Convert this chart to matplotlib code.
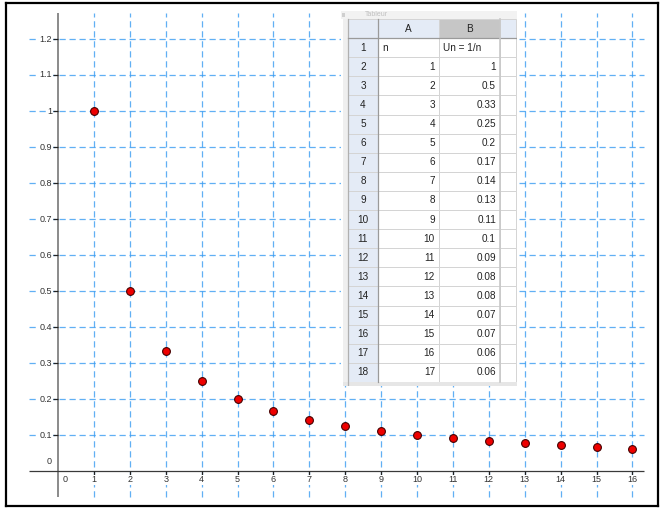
import matplotlib
matplotlib.use("Agg")
import matplotlib.pyplot as plt
from matplotlib.patches import Rectangle

plt.rcParams["font.family"] = ["Liberation Sans", "DejaVu Sans"]

# ── Data ──────────────────────────────────────────────────────────────────────
n_points = [1, 2, 3, 4, 5, 6, 7, 8, 9, 10, 11, 12, 13, 14, 15, 16]
u_points = [1.0, 0.5, 0.333, 0.25, 0.2, 0.167, 0.143, 0.125, 0.111, 0.1,
            0.091, 0.083, 0.077, 0.071, 0.067, 0.0625]

x_ticks = list(range(0, 17))
y_ticks = [0.1, 0.2, 0.3, 0.4, 0.5, 0.6, 0.7, 0.8, 0.9, 1.0, 1.1, 1.2]
y_tick_labels = ["0.1", "0.2", "0.3", "0.4", "0.5", "0.6", "0.7", "0.8",
                 "0.9", "1", "1.1", "1.2"]

table_rows = list(range(1, 19))
table_header = ["A", "B"]
table_titles = ["n", "Un = 1/n"]
table_n = ["1", "2", "3", "4", "5", "6", "7", "8", "9", "10", "11", "12",
           "13", "14", "15", "16", "17"]
table_u = ["1", "0.5", "0.33", "0.25", "0.2", "0.17", "0.14", "0.13", "0.11",
           "0.1", "0.09", "0.08", "0.08", "0.07", "0.07", "0.06", "0.06"]

# ── Layout (pixels) ───────────────────────────────────────────────────────────
W, H = 661, 508
X0_PX, X_UNIT = 58.0, 35.9      # pixel of x=0, pixels per unit
Y0_PX, Y_UNIT = 471.0, 360.0    # pixel of y=0 (from top), pixels per unit

GRID_C = "#3a9cf2"
dash = (0, (5, 3))

fig = plt.figure(figsize=(W / 100, H / 100), dpi=100)
ax = fig.add_axes([0, 0, 1, 1])
ax.set_xlim(-X0_PX / X_UNIT, (W - X0_PX) / X_UNIT)
ax.set_ylim(-(H - Y0_PX) / Y_UNIT, Y0_PX / Y_UNIT)
ax.axis("off")

gx_min, gx_max = (29 - X0_PX) / X_UNIT, (644 - X0_PX) / X_UNIT
gy_min, gy_max = (Y0_PX - 497) / Y_UNIT, (Y0_PX - 13) / Y_UNIT

# grid
ax.hlines(y_ticks, gx_min, gx_max, colors=GRID_C, lw=0.9, linestyles=dash, alpha=0.8, zorder=1)
ax.vlines(x_ticks[1:], gy_min, gy_max, colors=GRID_C, lw=0.9, linestyles=dash, alpha=0.8, zorder=1)

# axes
ax.plot([0, 0], [gy_min, gy_max], color="#8a8a8a", lw=1.4, zorder=2, solid_capstyle="butt")
ax.plot([gx_min, gx_max], [0, 0], color="#3a3a3a", lw=0.9, zorder=2, solid_capstyle="butt")

# tick marks
tk = 5 / X_UNIT
ax.hlines(y_ticks, -tk, 0, colors="#222222", lw=0.9, zorder=2)
tky = 5 / Y_UNIT
ax.vlines(x_ticks[1:], -tky, 0, colors="#222222", lw=0.9, zorder=2)

lbl = dict(fontsize=6.5, color="#333333", zorder=3,
           bbox=dict(facecolor="white", edgecolor="none", pad=0.6))
for v, t in zip(y_ticks, y_tick_labels):
    ax.text(-6 / X_UNIT, v, t, ha="right", va="center", **lbl)
ax.text(-6 / X_UNIT, 5 / Y_UNIT, "0", ha="right", va="bottom", **lbl)
for v in x_ticks:
    xx = v + (7 / X_UNIT if v == 0 else 0)
    ax.text(xx, -9 / Y_UNIT, str(v), ha="center", va="center", **lbl)

# points
ax.plot(n_points, u_points, "o", color="#ee0000", mec="#440000", mew=0.8,
        ms=5.6, ls="none", zorder=4)

# outer frame
for seg in ([(5.5, 3), (5.5, 506)], [(5.5, 3), (658, 3)], [(5.5, 506), (658, 506)],
            [(658, 3), (658, 506)]):
    (a, b), (c, d) = seg
    fig.add_artist(plt.Line2D([a / W, c / W], [1 - b / H, 1 - d / H],
                              color="black", lw=1.6, transform=fig.transFigure))

# ── Spreadsheet overlay ───────────────────────────────────────────────────────
TX0, TX1, TY0, TY1 = 341, 517, 11, 386
tax = fig.add_axes([TX0 / W, 1 - TY1 / H, (TX1 - TX0) / W, (TY1 - TY0) / H])
tax.set_xlim(TX0, TX1)
tax.set_ylim(TY1, TY0)
tax.axis("off")

HEAD_BLUE = "#e4ebf6"
LINE_C = "#d4d4d4"
col_x = [348, 378, 439, 500, 516]
head_top, row_h = 19.0, 19.1
cell_font = dict(fontsize=7.2, color="#222222")

tax.add_patch(Rectangle((TX0, TY0), TX1 - TX0, TY1 - TY0, facecolor="white", edgecolor="none"))
tax.add_patch(Rectangle((TX0, TY0), TX1 - TX0, head_top - TY0, facecolor="#f2f2f2", edgecolor="none"))
tax.text(365, 14.5, "Tableur", fontsize=5, color="#c0c0c0", va="center")
tax.add_patch(Rectangle((TX0 + 1, 13), 3, 4, facecolor="#cfcfcf", edgecolor="none"))
tax.add_patch(Rectangle((343, head_top), 5, TY1 - head_top, facecolor="#efefef", edgecolor="none"))

# header row
heads = [HEAD_BLUE, HEAD_BLUE, "#c6c6c6", HEAD_BLUE]
for i, fc in enumerate(heads):
    tax.add_patch(Rectangle((col_x[i], head_top), col_x[i + 1] - col_x[i], row_h,
                            facecolor=fc, edgecolor=LINE_C, lw=0.7))
for i, h in enumerate(table_header):
    tax.text((col_x[i + 1] + col_x[i + 2]) / 2, head_top + row_h / 2, h,
             ha="center", va="center", **cell_font)

# body rows
for r in table_rows:
    y = head_top + r * row_h
    tax.add_patch(Rectangle((col_x[0], y), col_x[1] - col_x[0], row_h,
                            facecolor=HEAD_BLUE, edgecolor=LINE_C, lw=0.7))
    for i in range(1, 4):
        tax.add_patch(Rectangle((col_x[i], y), col_x[i + 1] - col_x[i], row_h,
                                facecolor="white", edgecolor=LINE_C, lw=0.7))
    tax.text((col_x[0] + col_x[1]) / 2, y + row_h / 2, str(r), ha="center", va="center", **cell_font)
    if r == 1:
        tax.text(col_x[1] + 4, y + row_h / 2, table_titles[0], ha="left", va="center", **cell_font)
        tax.text(col_x[2] + 4, y + row_h / 2, table_titles[1], ha="left", va="center", **cell_font)
    else:
        tax.text(col_x[2] - 4, y + row_h / 2, table_n[r - 2], ha="right", va="center", **cell_font)
        tax.text(col_x[3] - 4, y + row_h / 2, table_u[r - 2], ha="right", va="center", **cell_font)

body_bot = head_top + 19 * row_h
tax.add_patch(Rectangle((343, body_bot), TX1 - 343, TY1 - body_bot, facecolor="#e6e6e6", edgecolor="none"))
tax.plot([col_x[1], col_x[1]], [head_top, body_bot], color="#9a9a9a", lw=0.9)
tax.plot([col_x[0], col_x[0]], [head_top, TY1], color="#b0b0b0", lw=0.9)
tax.plot([col_x[0], col_x[4]], [head_top + row_h, head_top + row_h], color="#9a9a9a", lw=0.9)
tax.plot([col_x[3], col_x[3]], [head_top, body_bot], color="#c8c8c8", lw=1.2)

fig.savefig("out.png", dpi=100)
